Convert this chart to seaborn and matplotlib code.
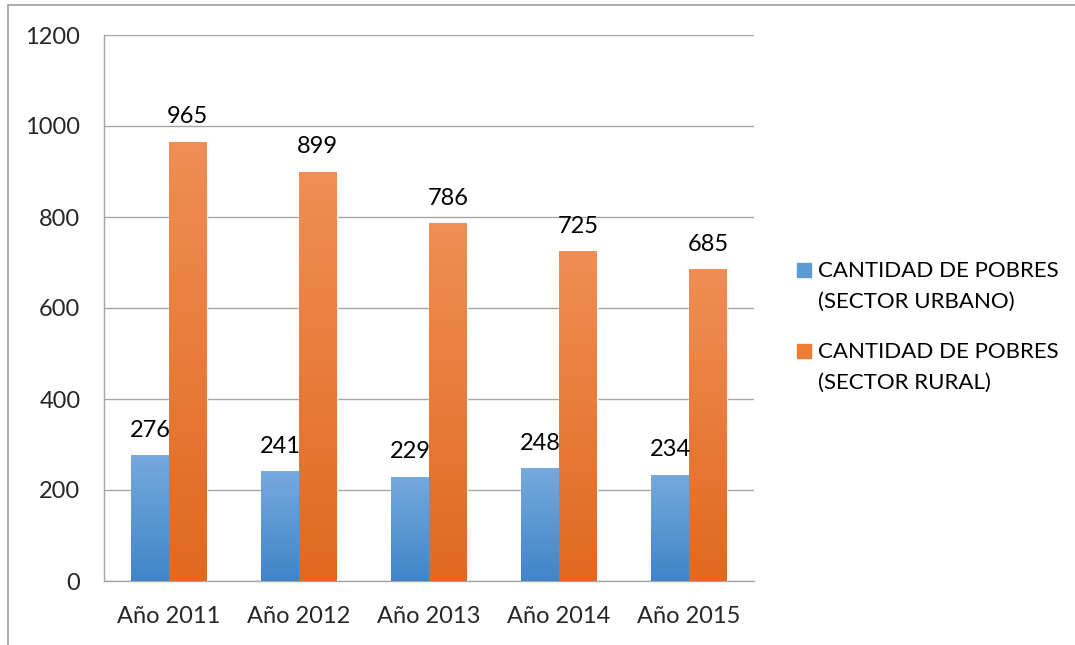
import numpy as np
import pandas as pd
import matplotlib
matplotlib.use("Agg")
import matplotlib.pyplot as plt
import seaborn as sns
from matplotlib.lines import Line2D
from matplotlib.patches import Rectangle
from matplotlib.colors import LinearSegmentedColormap

years = ["Año 2011", "Año 2012", "Año 2013", "Año 2014", "Año 2015"]
urbano = [276, 241, 229, 248, 234]
rural = [965, 899, 786, 725, 685]
series_names = ["CANTIDAD DE POBRES\n(SECTOR URBANO)", "CANTIDAD DE POBRES\n(SECTOR RURAL)"]
y_ticks = [0, 200, 400, 600, 800, 1000, 1200]

df = pd.DataFrame({
    "year": years * 2,
    "value": urbano + rural,
    "serie": [series_names[0]] * 5 + [series_names[1]] * 5,
})

sns.set_style("white")
plt.rcParams["font.family"] = ["Lato", "DejaVu Sans"]

W, H = 1075, 645
fig = plt.figure(figsize=(W/100, H/100), dpi=100)
ax = fig.add_axes([104/W, 1-581/H, (754-104)/W, (581-35)/H])

blue_mid = "#5B9BD5"
orange_mid = "#ED7D31"
sns.barplot(data=df, x="year", y="value", hue="serie", order=years,
            hue_order=series_names, palette=[blue_mid, orange_mid],
            width=0.58, ax=ax, legend=False, saturation=1, zorder=3)

ax.set_ylim(0, 1200)
ax.set_xlim(-0.5, 4.5)
ax.set_yticks(y_ticks)
ax.yaxis.grid(True, color="#A6A6A6", linewidth=1.0, zorder=0)
ax.set_axisbelow(True)
ax.set_xlabel("")
ax.set_ylabel("")
for s in ["top", "right"]:
    ax.spines[s].set_visible(False)
for s in ["left", "bottom"]:
    ax.spines[s].set_color("#A6A6A6")
    ax.spines[s].set_linewidth(1.0)
ax.tick_params(axis="y", length=0, pad=17, labelsize=17)
ax.tick_params(axis="x", length=0, pad=18, labelsize=17)

cmap_blue = LinearSegmentedColormap.from_list("b", ["#3F85C8", "#76A9DD"])
cmap_orange = LinearSegmentedColormap.from_list("o", ["#E0691F", "#F08E55"])
grad = np.linspace(0, 1, 256).reshape(-1, 1)

n = len(years)
for i, bar in enumerate(ax.patches[:2*n]):
    cmap = cmap_blue if i < n else cmap_orange
    x0, y0 = bar.get_x(), bar.get_y()
    w, h = bar.get_width(), bar.get_height()
    im = ax.imshow(grad, cmap=cmap, origin="lower", aspect="auto",
                   extent=[x0, x0 + w, y0, y0 + h], zorder=4)
    im.set_clip_path(bar)
    ax.text(x0 + w/2, h + 32, f"{int(round(h))}",
            ha="center", va="bottom", fontsize=17, color="black", zorder=5)

ax.set_xlim(-0.5, 4.5)
ax.set_ylim(0, 1200)

# legend (Excel style: marker aligned with the first text line)
leg_colors = [blue_mid, orange_mid]
leg_first_line_y = [270, 351]
for name, col, ly in zip(series_names, leg_colors, leg_first_line_y):
    fig.add_artist(Rectangle((797/W, 1-(ly+7)/H), 14/W, 14/H, color=col,
                             transform=fig.transFigure))
    fig.text(818/W, 1-(ly-9)/H, name, ha="left", va="top", fontsize=16,
             linespacing=1.65, color="black")

# outer chart border (left and top visible)
fig.add_artist(Line2D([8/W, 8/W], [0, 1-5/H], color="#A0A0A0", lw=1.2,
                      transform=fig.transFigure))
fig.add_artist(Line2D([8/W, 1], [1-5/H, 1-5/H], color="#A0A0A0", lw=1.2,
                      transform=fig.transFigure))

fig.savefig("out.png", dpi=100)
